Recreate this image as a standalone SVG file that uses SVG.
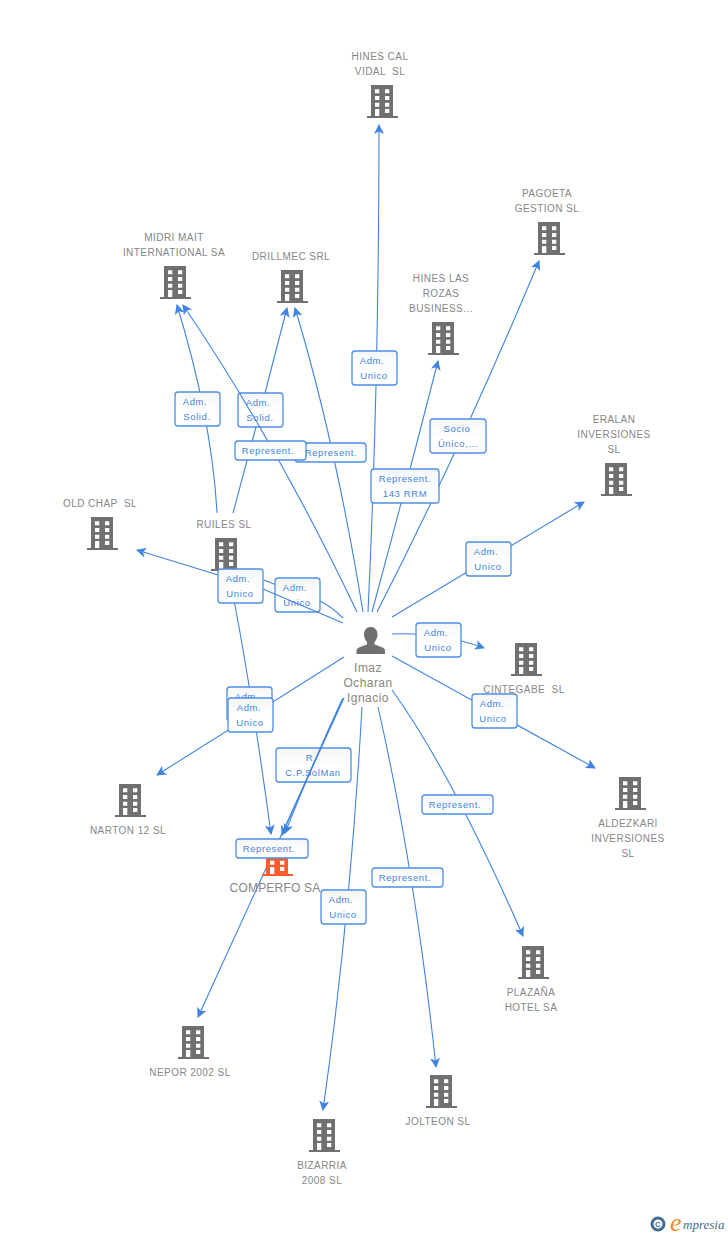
<svg xmlns="http://www.w3.org/2000/svg" width="728" height="1235" viewBox="0 0 728 1235">
<style>
.t{font-family:"Liberation Sans",Arial,sans-serif;font-size:10px;fill:#868686;text-anchor:middle;letter-spacing:.45px;white-space:pre}
.c{fill:none;stroke:#3f84e0;stroke-width:1.1;marker-end:url(#a)}
.n{fill:none;stroke:#3f84e0;stroke-width:1.1}
.b{fill:url(#g);stroke:#4f8ee3;stroke-width:1.3}
.l{font-family:"Liberation Sans",Arial,sans-serif;font-size:9.5px;fill:#3f84e0;text-anchor:middle;letter-spacing:.6px}
</style>
<defs>
<linearGradient id="g" x1="0" y1="0" x2="0" y2="1"><stop offset="0" stop-color="#f5f6f7"/><stop offset=".6" stop-color="#fff"/></linearGradient>
<marker id="a" markerWidth="11" markerHeight="11" refX="9" refY="5" orient="auto" markerUnits="userSpaceOnUse"><path d="M0 0L10 5L0 10L2.500 5Z" fill="#3f84e0"/></marker>
<symbol id="bld" width="32" height="34" overflow="visible">
<path d="M4 0H26V31H31V33H0V31H4Z M8 4.300V8.300H12.300V4.300Z M18 4.300V8.300H22.300V4.300Z M8 11V15H12.300V11Z M18 11V15H22.300V11Z M8 17.700V21.700H12.300V17.700Z M18 17.700V21.700H22.300V17.700Z M8 24V31H12.300V24Z M18 24V28H22.300V24Z" fill-rule="evenodd"/>
</symbol>
</defs>
<g id="labels-back">
<g><rect class="b" x="238" y="393" width="45" height="34" rx="3"/><text class="l" x="258" y="406">Adm.</text><text class="l" x="260" y="421">Solid.</text></g>
<g><rect class="b" x="276" y="748" width="75" height="34" rx="3"/><text class="l" x="311" y="761">R.</text><text class="l" x="313" y="776">C.P.SolMan</text></g>
<g><rect class="b" x="275" y="578" width="45" height="34" rx="3"/><text class="l" x="295" y="591">Adm.</text><text class="l" x="297" y="606">Unico</text></g>
</g>
<g id="connectors">
<path class="c" d="M368 612Q379 380 379 125"/>
<path class="c" d="M372 612Q405 490 438 361"/>
<path class="c" d="M377 612Q460 450 539 261"/>
<path class="c" d="M392 617L584 502"/>
<path class="c" d="M392 634Q440 632 484 648"/>
<path class="c" d="M392 656L595 768"/>
<path class="c" d="M392 690Q450 770 523 936"/>
<path class="c" d="M378 707Q415 870 436 1067"/>
<path class="c" d="M362 707Q350 920 323 1110"/>
<path class="c" d="M344 698L198 1017"/>
<path class="c" d="M343 698Q315 760 282 835"/>
<path class="c" d="M342 700Q312 765 285 833"/>
<path class="c" d="M344 657L157 775"/>
<path class="c" d="M363 612Q335 440 295 308"/>
<path class="c" d="M357 612Q275 440 183 305"/>
<path class="c" d="M218 575L137 550"/>
<path class="n" d="M263 589L343 623"/>
<path class="n" d="M264 580L275 584.500"/>
<path class="n" d="M320 601Q332 607 343 618"/>
<path class="n" d="M233 513L256 427"/>
<path class="c" d="M265 393L287 308"/>
<path class="c" d="M217 513Q212 420 177 305"/>
<path class="c" d="M234 600Q253 700 271 834"/>
</g>
<g fill="#707070">
<g id="n1"><use href="#bld" x="367" y="85"/><text class="t" x="380" y="60">HINES CAL</text><text class="t" x="380" y="75" xml:space="preserve">VIDAL  SL</text></g>
<g id="n2"><use href="#bld" x="534" y="222"/><text class="t" x="547" y="197">PAGOETA</text><text class="t" x="547" y="212">GESTION SL</text></g>
<g id="n3"><use href="#bld" x="160" y="266"/><text class="t" x="174" y="241">MIDRI MAIT</text><text class="t" x="174" y="256">INTERNATIONAL SA</text></g>
<g id="n4"><use href="#bld" x="277" y="270"/><text class="t" x="291" y="260">DRILLMEC SRL</text></g>
<g id="n5"><use href="#bld" x="428" y="322"/><text class="t" x="441" y="282">HINES LAS</text><text class="t" x="441" y="297">ROZAS</text><text class="t" x="441" y="312">BUSINESS...</text></g>
<g id="n6"><use href="#bld" x="601" y="463"/><text class="t" x="614" y="423">ERALAN</text><text class="t" x="614" y="438">INVERSIONES</text><text class="t" x="614" y="453">SL</text></g>
<g id="n7"><use href="#bld" x="87" y="517"/><text class="t" x="100" y="507" xml:space="preserve">OLD CHAP  SL</text></g>
<g id="n8"><use href="#bld" x="211" y="538"/><text class="t" x="224" y="528">RUILES SL</text></g>
<g id="n9"><use href="#bld" x="511" y="643"/><text class="t" x="524" y="693" xml:space="preserve">CINTEGABE  SL</text></g>
<g id="n10"><use href="#bld" x="615" y="777"/><text class="t" x="628" y="827">ALDEZKARI</text><text class="t" x="628" y="842">INVERSIONES</text><text class="t" x="628" y="857">SL</text></g>
<g id="n11"><use href="#bld" x="115" y="784"/><text class="t" x="128" y="834">NARTON 12 SL</text></g>
<g id="n12"><use href="#bld" x="262" y="843" fill="#ff5a2b"/><text class="t" x="275" y="892" style="font-size:12px;letter-spacing:.2px">COMPERFO SA</text></g>
<g id="n13"><use href="#bld" x="518" y="946"/><text class="t" x="531" y="996">PLAZAÑA</text><text class="t" x="531" y="1011">HOTEL SA</text></g>
<g id="n14"><use href="#bld" x="178" y="1026"/><text class="t" x="190" y="1076">NEPOR 2002 SL</text></g>
<g id="n15"><use href="#bld" x="426" y="1075"/><text class="t" x="438" y="1125">JOLTEON SL</text></g>
<g id="n16"><use href="#bld" x="309" y="1119"/><text class="t" x="322" y="1169">BIZARRIA</text><text class="t" x="322" y="1184">2008 SL</text></g>
<g id="person"><path d="M370.500 627c4.500 0 7 3.300 7 7.500 0 3-1.300 5.800-3 7.500v2.500c3 1.500 9.500 2.500 10.500 5.500v4h-28.500v-4c1-3 7.500-4 10.500-5.500v-2.500c-1.700-1.700-3-4.500-3-7.500 0-4.200 2.500-7.500 6.500-7.500z"/><g class="t" style="font-size:12px"><text x="368" y="672">Imaz</text><text x="368" y="687">Ocharan</text><text x="368" y="702">Ignacio</text></g></g>
</g>
<g id="labels">
<g><rect class="b" x="352" y="351" width="45" height="34" rx="3"/><text class="l" x="372" y="364">Adm.</text><text class="l" x="374" y="379">Unico</text></g>
<g><rect class="b" x="430" y="419" width="56" height="34" rx="3"/><text class="l" x="457" y="432">Socio</text><text class="l" x="458" y="447">Único,...</text></g>
<g><rect class="b" x="371" y="469" width="68" height="34" rx="3"/><text class="l" x="405" y="482">Represent.</text><text class="l" x="405" y="497">143 RRM</text></g>
<g><rect class="b" x="466" y="542" width="45" height="34" rx="3"/><text class="l" x="486" y="555">Adm.</text><text class="l" x="488" y="570">Unico</text></g>
<g><rect class="b" x="416" y="623" width="45" height="34" rx="3"/><text class="l" x="436" y="636">Adm.</text><text class="l" x="438" y="651">Unico</text></g>
<g><rect class="b" x="472" y="694" width="45" height="34" rx="3"/><text class="l" x="492" y="707">Adm.</text><text class="l" x="493" y="722">Unico</text></g>
<g><rect class="b" x="422" y="795" width="71" height="19" rx="3"/><text class="l" x="455" y="808">Represent.</text></g>
<g><rect class="b" x="372" y="868" width="71" height="19" rx="3"/><text class="l" x="405" y="881">Represent.</text></g>
<g><rect class="b" x="321" y="890" width="45" height="34" rx="3"/><text class="l" x="341" y="903">Adm.</text><text class="l" x="343" y="918">Unico</text></g>
<g><rect class="b" x="295" y="443" width="71" height="19" rx="3"/><text class="l" x="331" y="456">Represent.</text></g>
<g><rect class="b" x="175" y="392" width="45" height="34" rx="3"/><text class="l" x="195" y="405">Adm.</text><text class="l" x="197" y="420">Solid.</text></g>
<g><rect class="b" x="235" y="441" width="71" height="19" rx="3"/><text class="l" x="268" y="454">Represent.</text></g>
<g><rect class="b" x="218" y="569" width="45" height="34" rx="3"/><text class="l" x="238" y="582">Adm.</text><text class="l" x="240" y="597">Unico</text></g>
<g><rect class="b" x="227" y="687" width="45" height="34" rx="3"/><text class="l" x="247" y="700">Adm.</text></g>
<g><rect class="b" x="228" y="698" width="45" height="34" rx="3"/><text class="l" x="249" y="711">Adm.</text><text class="l" x="250" y="726">Unico</text></g>
<g><rect class="b" x="236" y="839" width="72" height="19" rx="3"/><text class="l" x="269" y="852">Represent.</text></g>
</g>
<g id="logo"><circle cx="658" cy="1224" r="6" fill="#fff" stroke="#3f6f8f" stroke-width="3"/><text x="658" y="1227" style="font-family:'Liberation Sans',sans-serif;font-size:8px;font-weight:bold;text-anchor:middle" fill="#3f6f8f">C</text><text x="670" y="1231" style="font-family:'Liberation Serif',serif;font-size:26px;font-style:italic" fill="#f08a24">e</text><text x="683" y="1229" style="font-family:'Liberation Serif',serif;font-size:13px;font-style:italic" fill="#3f6f8f">mpresia</text></g>
</svg>
